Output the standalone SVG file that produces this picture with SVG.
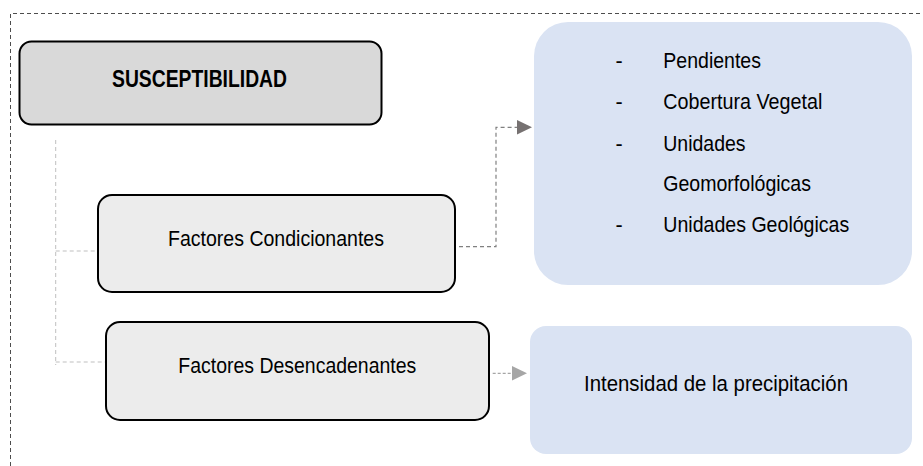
<svg xmlns="http://www.w3.org/2000/svg" width="923" height="466" viewBox="0 0 923 466">
<style>
.t{font-family:"Liberation Sans",Arial,sans-serif;font-size:21.5px;fill:#000}
.f{font-size:22.5px}
.b{font-weight:bold;font-size:24px}
.gbox{stroke:#000;stroke-width:2}
.blue{fill:#dae3f3}
.frame{fill:none;stroke:#4d4d4d;stroke-width:1;stroke-dasharray:4 3}
.lc{fill:none;stroke:#bfbfbf;stroke-width:1;stroke-dasharray:4 3}
.dc{fill:none;stroke:#808080;stroke-width:1.2;stroke-dasharray:4 3}
.dc2{fill:none;stroke:#a6a6a6;stroke-width:1.2;stroke-dasharray:3 2}
</style>
<rect width="923" height="466" fill="#fff"/>
<path class="frame" d="M10.5 466 V13.5 H923"/>
<g id="connectors">
<path class="lc" d="M55.7 140 V365 M55.7 251 H97 M55.7 362 H105"/>
<path class="dc" d="M459 246.7 H496 V127.3 H517"/>
<polygon points="517,120 532,127.3 517,134.6" fill="#767171"/>
<path class="dc2" d="M492.7 373.3 H512"/>
<polygon points="512,366 527,373.3 512,380.6" fill="#a6a6a6"/>
</g>
<g id="susceptibilidad">
<rect class="gbox" x="19.5" y="41.5" width="362" height="83" rx="12" fill="#d9d9d9"/>
<text class="t b" x="112" y="86.5" textLength="175" lengthAdjust="spacingAndGlyphs">SUSCEPTIBILIDAD</text>
</g>
<g id="condicionantes">
<rect class="gbox" x="98" y="195" width="357" height="97" rx="14" fill="#ececec"/>
<text class="t f" x="168" y="245.7" textLength="216" lengthAdjust="spacingAndGlyphs">Factores Condicionantes</text>
</g>
<g id="desencadenantes">
<rect class="gbox" x="106" y="322" width="383" height="98" rx="14" fill="#ececec"/>
<text class="t f" x="178.3" y="373.3" textLength="238" lengthAdjust="spacingAndGlyphs">Factores Desencadenantes</text>
</g>
<g id="lista">
<rect class="blue" x="534" y="22" width="378" height="263" rx="34"/>
<text class="t" x="615.5" y="68.3">-</text>
<text class="t" x="663.3" y="68.3" textLength="97.7" lengthAdjust="spacingAndGlyphs">Pendientes</text>
<text class="t" x="615.5" y="109.3">-</text>
<text class="t" x="663.3" y="109.3" textLength="159" lengthAdjust="spacingAndGlyphs">Cobertura Vegetal</text>
<text class="t" x="615.5" y="150.7">-</text>
<text class="t" x="663.3" y="150.7" textLength="82.3" lengthAdjust="spacingAndGlyphs">Unidades</text>
<text class="t" x="663.3" y="190.7" textLength="147.7" lengthAdjust="spacingAndGlyphs">Geomorfológicas</text>
<text class="t" x="615.5" y="231.7">-</text>
<text class="t" x="663.3" y="231.7" textLength="186" lengthAdjust="spacingAndGlyphs">Unidades Geológicas</text>
</g>
<g id="intensidad">
<rect class="blue" x="530" y="326" width="382" height="128" rx="16"/>
<text class="t" x="584" y="391" textLength="264" lengthAdjust="spacingAndGlyphs">Intensidad de la precipitación</text>
</g>
</svg>
